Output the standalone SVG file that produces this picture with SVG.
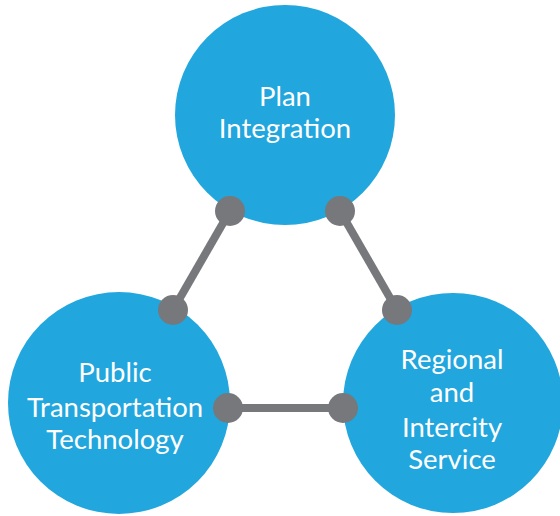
<svg xmlns="http://www.w3.org/2000/svg" width="560" height="516" viewBox="0 0 560 516">
<style>
.c{fill:#21a6de}
.t{font-family:Lato,"Liberation Sans",sans-serif;font-size:27.5px;fill:#ffffff;text-anchor:middle}
.l{stroke:#77787b;stroke-width:8;fill:none}
.d{fill:#77787b}
</style>
<rect width="560" height="516" fill="#ffffff"/>
<g id="n1"><circle class="c" cx="285" cy="115" r="110"/>
<text class="t" x="285" y="106">Plan</text><text class="t" x="285" y="138">Integration</text></g>
<g id="n2"><circle class="c" cx="119" cy="403" r="111"/>
<text class="t" x="115" y="382">Public</text><text class="t" x="115" y="417">Transportation</text><text class="t" x="115" y="449">Technology</text></g>
<g id="n3"><circle class="c" cx="453" cy="403" r="110"/>
<text class="t" x="452" y="369">Regional</text><text class="t" x="452" y="402">and</text><text class="t" x="452" y="437">Intercity</text><text class="t" x="452" y="469">Service</text></g>
<g id="connectors">
<line class="l" x1="230" y1="211" x2="173" y2="310"/>
<line class="l" x1="340" y1="211" x2="397" y2="310"/>
<line class="l" x1="228" y1="408" x2="343" y2="408"/>
<circle class="d" cx="230" cy="211" r="15"/>
<circle class="d" cx="340" cy="211" r="15"/>
<circle class="d" cx="173" cy="310" r="15"/>
<circle class="d" cx="397" cy="310" r="15"/>
<circle class="d" cx="228" cy="408" r="15"/>
<circle class="d" cx="343" cy="408" r="15"/>
</g>
</svg>
